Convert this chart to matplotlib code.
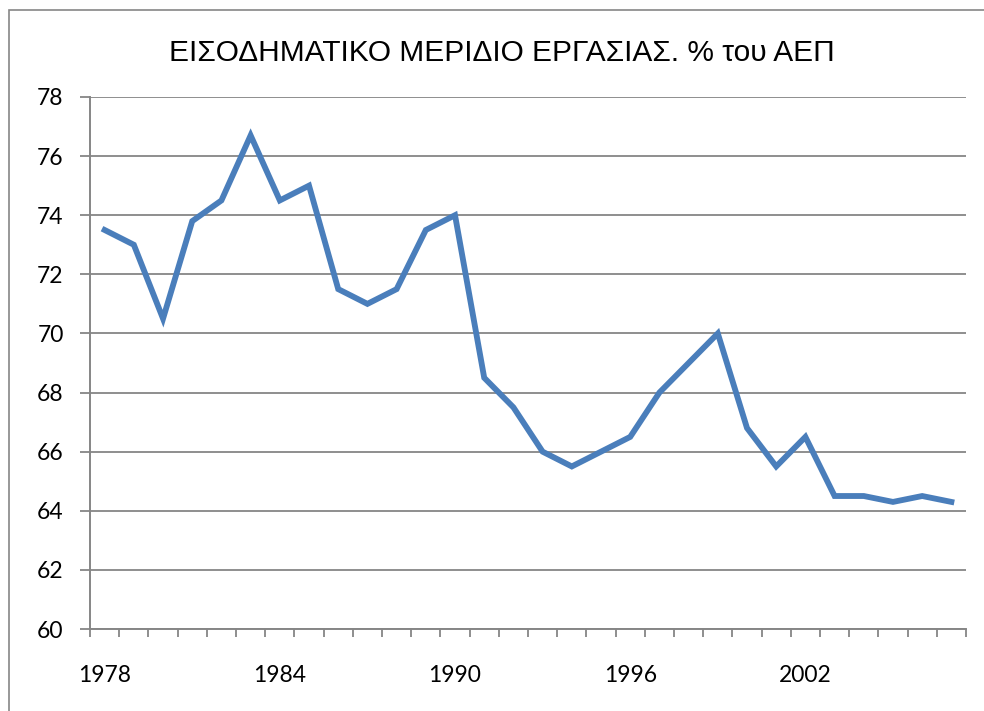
import matplotlib.pyplot as plt
from matplotlib.patches import Rectangle
import numpy as np

years = list(range(1978, 2008))
share = [73.5, 73.0, 70.5, 73.8, 74.5, 76.7, 74.5, 75.0, 71.5, 71.0,
         71.5, 73.5, 74.0, 68.5, 67.5, 66.0, 65.5, 66.0, 66.5, 68.0,
         69.0, 70.0, 66.8, 65.5, 66.5, 64.5, 64.5, 64.3, 64.5, 64.3]
title = "ΕΙΣΟΔΗΜΑΤΙΚΟ ΜΕΡΙΔΙΟ ΕΡΓΑΣΙΑΣ. % του ΑΕΠ"

grey = "#868686"

fig = plt.figure(figsize=(9.84, 7.11), dpi=100)
ax = fig.add_axes([0.0915, 0.1153, 0.8902, 0.7483])

# outer chart frame (right/bottom edges run off the image)
fig.patches.append(Rectangle((9 / 984, -0.05), 1.1, 1 - 10 / 711 + 0.05,
                             transform=fig.transFigure, fill=False,
                             edgecolor=grey, linewidth=1.2))

x = np.arange(len(years))
ax.plot(x, share, color="#4A7EBB", linewidth=4.2, solid_joinstyle="miter")

ax.set_xlim(-0.5, len(years) - 0.5)
ax.set_ylim(60, 78)
ax.set_yticks(range(60, 79, 2))
ax.yaxis.grid(True, color=grey, linewidth=1.3)
ax.set_axisbelow(True)

# category ticks at boundaries, labels every 6 years
ax.set_xticks(np.arange(-0.5, len(years)), minor=True)
ax.set_xticks(x[::6])
ax.set_xticklabels([str(y) for y in years[::6]])
ax.tick_params(axis="x", which="major", length=0, pad=26)
ax.tick_params(axis="x", which="minor", length=6, width=1.3, color=grey)
ax.tick_params(axis="y", length=7, width=1.3, color=grey, pad=12)

for lab in ax.get_xticklabels() + ax.get_yticklabels():
    lab.set_fontfamily("Lato")
    lab.set_fontsize(16.5)

for side in ["top", "right"]:
    ax.spines[side].set_visible(False)
for side in ["left", "bottom"]:
    ax.spines[side].set_color(grey)
    ax.spines[side].set_linewidth(1.4)

fig.text(0.51, 0.926, title, ha="center", va="center",
         fontsize=21.5, family=["Liberation Sans", "DejaVu Sans"])

fig.savefig("out.png", dpi=100)
